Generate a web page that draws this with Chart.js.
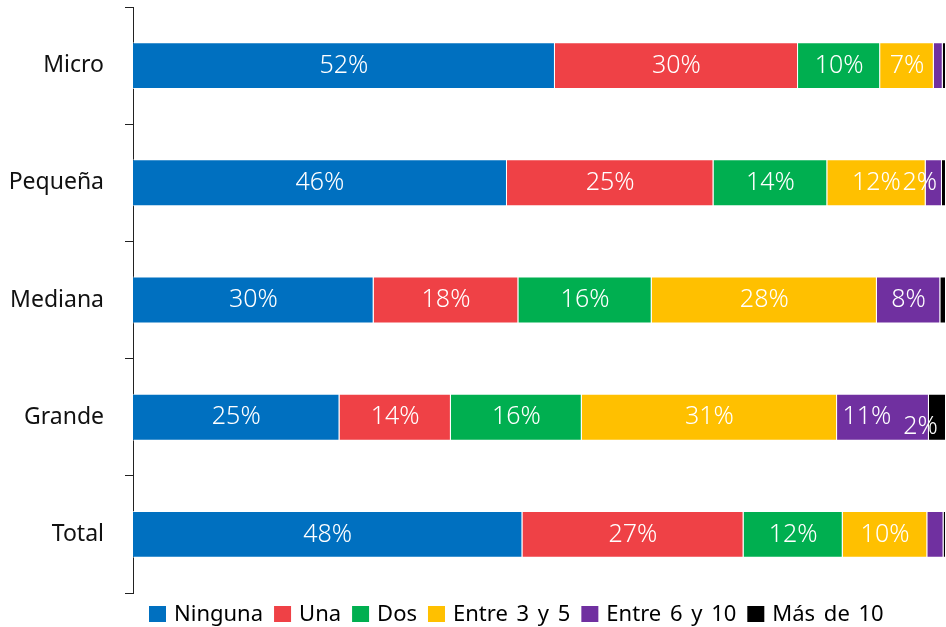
<!DOCTYPE html>
<html><head><meta charset="utf-8">
<script src="https://cdn.jsdelivr.net/npm/chart.js@4"></script>
<style>html,body{margin:0;padding:0;background:#fff}canvas{display:block}</style>
</head><body>
<canvas id="c" width="946" height="627"></canvas>
<script>
const categories = ['Micro', 'Pequeña', 'Mediana', 'Grande', 'Total'];
const seriesNames = ['Ninguna', 'Una', 'Dos', 'Entre 3 y 5', 'Entre 6 y 10', 'Más de 10'];
const ninguna   = [51.9, 46.0, 29.6, 25.4, 47.9];
const una       = [29.9, 25.4, 17.8, 13.7, 27.2];
const dos       = [10.1, 14.0, 16.4, 16.1, 12.2];
const entre3y5  = [6.6, 12.1, 27.7, 31.4, 10.4];
const entre6y10 = [1.1, 2.0, 7.8, 11.3, 2.0];
const masDe10   = [0.4, 0.5, 0.7, 2.1, 0.3];
const seriesValues = [ninguna, una, dos, entre3y5, entre6y10, masDe10];
const colors = ['#0070C0', '#EF4146', '#00AF50', '#FFC000', '#7030A0', '#000000'];

const segLabels = {
  id: 'segLabels',
  afterDatasetsDraw(chart, args, opts) {
    const ctx = chart.ctx;
    ctx.save();
    ctx.font = opts.font;
    ctx.fillStyle = '#fff';
    ctx.textAlign = 'center';
    ctx.textBaseline = 'middle';
    chart.data.datasets.forEach((ds, di) => {
      const meta = chart.getDatasetMeta(di);
      meta.data.forEach((el, i) => {
        const v = ds.data[i];
        const key = di + ',' + i;
        if (v < opts.min || opts.skip.includes(key)) return;
        const n = opts.nudge[key] || [0, 0];
        ctx.fillText(Math.round(v) + '%', (el.x + el.base) / 2 + n[0], el.y + n[1]);
      });
    });
    ctx.restore();
  }
};

const customLegend = {
  id: 'customLegend',
  afterDraw(chart, args, opts) {
    const ctx = chart.ctx;
    ctx.save();
    ctx.font = opts.font;
    ctx.textBaseline = 'middle';
    ctx.textAlign = 'left';
    if ('wordSpacing' in ctx) ctx.wordSpacing = opts.wordSpacing;
    let x = opts.x;
    const y = opts.y;
    chart.data.datasets.forEach(ds => {
      ctx.fillStyle = ds.backgroundColor;
      ctx.fillRect(x, y - opts.boxH / 2, opts.boxW, opts.boxH);
      x += opts.boxW + opts.gap;
      ctx.fillStyle = '#000';
      ctx.fillText(ds.label, x, y + 1);
      x += ctx.measureText(ds.label).width + opts.spacing;
    });
    ctx.restore();
  }
};

new Chart(document.getElementById('c'), {
  type: 'bar',
  data: {
    labels: categories,
    datasets: seriesNames.map((name, k) => ({
      label: name,
      data: seriesValues[k],
      backgroundColor: colors[k],
      borderColor: 'rgba(255,255,255,0.7)',
      borderWidth: 1,
      categoryPercentage: 0.8,
      barPercentage: 0.5
    }))
  },
  options: {
    indexAxis: 'y',
    responsive: false,
    animation: false,
    layout: { padding: { top: 7, bottom: 34, left: 0, right: 0 } },
    scales: {
      x: { stacked: true, min: 0, max: 100, display: false },
      y: {
        stacked: true,
        grid: { display: true, drawOnChartArea: false, drawTicks: true, tickLength: 8, color: '#222', offset: true },
        border: { display: true, color: '#222', width: 1 },
        ticks: { font: { family: 'Noto Sans', size: 23 }, color: '#111', padding: 21 },
        afterFit(s) { s.width = 133; s.paddingTop = 0; s.paddingBottom = 0; }
      }
    },
    plugins: {
      legend: { display: false },
      tooltip: { enabled: false },
      segLabels: {
        font: '300 25px "Noto Sans"',
        min: 1.95,
        skip: ['4,4'],
        nudge: { '4,1': [-14, 0], '4,3': [-16, 0], '5,3': [-17, 10] }
      },
      customLegend: {
        font: '22px "Noto Sans"',
        wordSpacing: '3px',
        x: 149, y: 614, boxW: 17, boxH: 16, gap: 8, spacing: 11
      }
    }
  },
  plugins: [segLabels, customLegend]
});
</script>
</body></html>
